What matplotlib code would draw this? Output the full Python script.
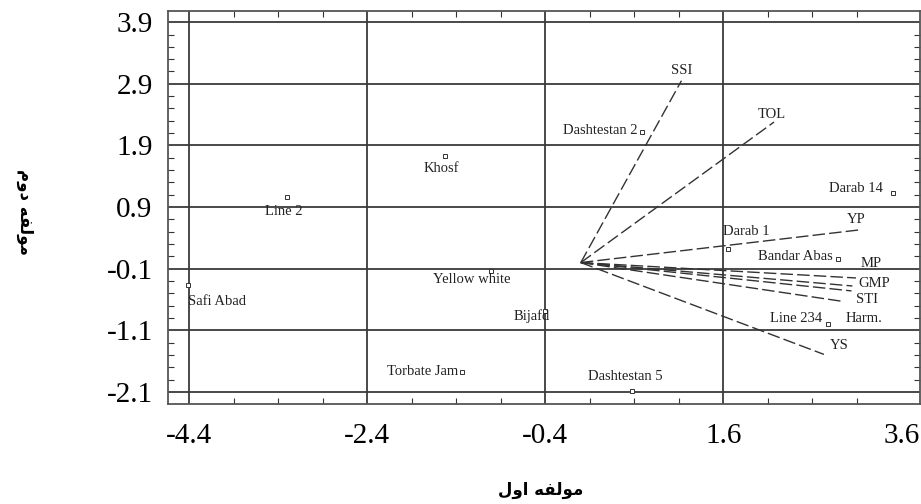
import matplotlib.pyplot as plt
from matplotlib.ticker import MultipleLocator

# genotype scores (first and second component)
genotypes = ['Darab 14', 'Darab 1', 'Bandar Abas', 'Line 234', 'Dashtestan 2',
             'Dashtestan 5', 'Khosf', 'Line 2', 'Safi Abad', 'Yellow white',
             'Bijafd', 'Torbate Jam']
g_pc1 = [3.51, 1.65, 2.89, 2.78, 0.69, 0.57, -1.52, -3.30, -4.41, -1.01, -0.40, -1.33]
g_pc2 = [1.13, 0.22, 0.06, -0.99, 2.12, -2.08, 1.73, 1.07, -0.36, -0.13, -0.78, -1.77]

# index vectors
indices = ['SSI', 'TOL', 'YP', 'MP', 'GMP', 'Harm.', 'STI', 'YS']
v_pc1 = [1.13, 2.17, 3.13, 3.09, 3.05, 3.04, 2.94, 2.73]
v_pc2 = [2.95, 2.28, 0.53, -0.25, -0.38, -0.46, -0.63, -1.49]

xticks = [-4.4, -2.4, -0.4, 1.6, 3.6]
yticks = [-2.1, -1.1, -0.1, 0.9, 1.9, 2.9, 3.9]

# label placement (pixels, ha)
g_off = [(-10, 4, 'right'), (19, 17, 'center'), (-5, 2, 'right'), (-6, 5, 'right'),
         (-5, 1, 'right'), (-6, 14, 'center'), (-4, -13, 'center'), (-3, -15, 'center'),
         (0, -17, 'left'), (-19, -9, 'center'), (-13, -5, 'center'), (-4, 0, 'right')]
v_off = [(0, 10, 'center'), (-2, 8, 'center'), (-3, 10, 'center'), (15, 14, 'center'),
         (22, 2, 'center'), (13, -28, 'center'), (24, 2, 'center'), (15, 9, 'center')]

fig = plt.figure(figsize=(9.21, 5.04), dpi=100)
ax = fig.add_axes([0.1824, 0.1984, 0.8166, 0.7796])
ax.set_xlim(-4.636, 3.81)
ax.set_ylim(-2.295, 4.08)

for x in xticks[:-1]:
    ax.axvline(x, color='#3a3a3a', lw=1.3, zorder=1)
for y in yticks:
    ax.axhline(y, color='#3a3a3a', lw=1.3, zorder=1)

for i in range(len(indices)):
    ax.plot([0, v_pc1[i]], [0, v_pc2[i]], color='#333333', lw=1.0,
            linestyle=(0, (9, 3)), zorder=2)
    dx, dy, ha = v_off[i]
    ax.annotate(indices[i], (v_pc1[i], v_pc2[i]), xytext=(dx, dy),
                textcoords='offset pixels', ha=ha, va='center',
                fontsize=10.5, family='Liberation Serif', color='#222222')

ax.plot(g_pc1, g_pc2, 's', ms=3, mfc='white', mec='#333333', mew=0.7,
        linestyle='none', zorder=3)
for i in range(len(genotypes)):
    dx, dy, ha = g_off[i]
    ax.annotate(genotypes[i], (g_pc1[i], g_pc2[i]), xytext=(dx, dy),
                textcoords='offset pixels', ha=ha, va='center',
                fontsize=10.5, family='Liberation Serif', color='#222222')

ax.set_xticks(xticks)
ax.set_yticks(yticks)
ax.set_xticklabels([f'{v:.1f}' for v in xticks], family='Liberation Serif', fontsize=21)
ax.set_yticklabels([f'{v:.1f}' for v in yticks], family='Liberation Serif', fontsize=21)
ax.tick_params(axis='x', which='major', length=0, pad=14)
ax.tick_params(axis='y', which='major', length=0, pad=11)
ax.xaxis.set_minor_locator(MultipleLocator(0.5, offset=0.1))
ax.yaxis.set_minor_locator(MultipleLocator(0.2, offset=0.1))
ax.tick_params(which='minor', direction='in', length=4, width=0.8,
               top=True, right=True, color='#333333')
for s in ax.spines.values():
    s.set_linewidth(1.3)
    s.set_color('#555555')

# Persian axis titles (presentation forms, visual order)
fig.text(0.587, 0.027, '\ufedd\ufeed\ufe8d \ufeea\ufed4\ufedf\ufeee\ufee3',
         ha='center', va='center', fontsize=12, fontweight='bold', family='DejaVu Sans')
fig.text(0.027, 0.58, '\ufee1\ufeed\ufea9 \ufeea\ufed4\ufedf\ufeee\ufee3',
         ha='center', va='center', rotation=270, fontsize=12, fontweight='bold',
         family='DejaVu Sans')

fig.savefig('out.png', dpi=100)
